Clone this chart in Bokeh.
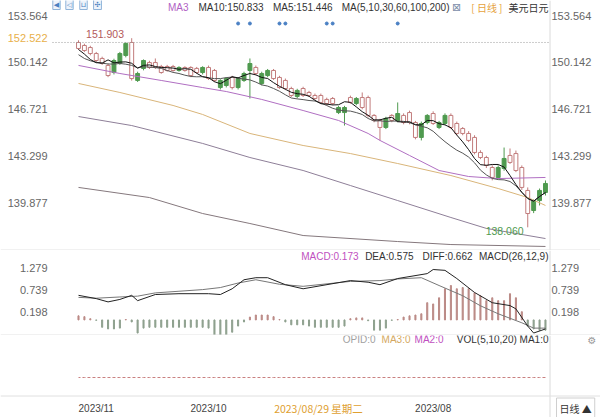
import pandas as pd
from bokeh.plotting import figure
from bokeh.layouts import column
from bokeh.models import Range1d, Label, Span
from bokeh.embed import file_html
from bokeh.resources import INLINE

# ---------------- data (chronological; index 0 = earliest) ----------------
opens = [141.27, 140.76, 140.02, 139.07, 140.98, 142.22, 142.81, 143.10, 142.44, 141.71,
         142.59, 143.17, 143.54, 144.42, 144.93, 144.93, 145.37, 146.25, 145.73, 145.66,
         146.25, 145.66, 144.64, 145.73, 145.73, 146.39, 145.88, 146.03, 145.37, 145.88,
         146.25, 146.83, 147.49, 147.20, 146.83, 146.83, 147.12, 147.12, 147.20, 147.49,
         147.71, 147.71, 148.08, 147.71, 148.22, 148.29, 148.95, 149.54, 149.32, 149.32,
         150.05, 149.32, 148.95, 148.29, 148.95, 148.81, 148.81, 148.95, 149.76, 149.39,
         149.17, 149.54, 149.76, 149.54, 149.54, 149.39, 149.76, 149.76, 150.27, 149.32,
         148.95, 151.52, 150.78, 150.27, 149.17, 150.05, 150.27, 150.78, 151.00, 151.15]
closes = [140.61, 140.02, 139.29, 140.76, 142.44, 143.46, 143.32, 142.37, 141.71, 142.44,
          143.17, 143.54, 144.64, 144.93, 145.29, 145.66, 146.25, 145.66, 145.37, 146.39,
          145.73, 144.64, 145.73, 146.46, 146.25, 145.88, 146.25, 145.37, 145.88, 146.25,
          147.56, 147.56, 147.12, 147.56, 146.46, 146.46, 147.49, 147.42, 147.71, 147.71,
          147.93, 148.22, 147.64, 148.22, 148.81, 149.03, 149.54, 149.17, 148.59, 149.76,
          149.54, 148.81, 148.29, 149.03, 148.44, 148.29, 149.54, 149.76, 149.39, 149.69,
          149.76, 149.76, 149.54, 149.83, 149.83, 149.83, 150.12, 150.12, 149.69, 148.81,
          151.59, 150.64, 150.05, 149.39, 149.91, 150.42, 150.78, 151.22, 151.37, 151.59]
highs = [141.49, 140.90, 140.10, 140.98, 142.59, 143.68, 143.83, 143.90, 142.60, 142.60,
         143.30, 143.70, 144.80, 145.10, 145.40, 145.80, 146.40, 146.40, 145.85, 146.55,
         146.35, 145.80, 145.85, 146.60, 146.40, 147.20, 146.35, 146.15, 146.00, 146.35,
         147.70, 147.93, 147.60, 147.70, 146.95, 146.95, 147.60, 147.55, 147.85, 147.85,
         148.05, 148.35, 148.20, 148.35, 148.95, 149.15, 149.65, 149.65, 149.45, 149.90,
         150.42, 149.45, 149.05, 149.15, 149.05, 148.90, 149.65, 149.90, 149.85, 149.80,
         149.85, 149.85, 149.85, 149.95, 149.95, 149.95, 150.42, 150.25, 150.35, 149.45,
         151.903, 151.60, 150.90, 150.40, 150.05, 150.55, 150.90, 151.35, 151.50, 151.75]
lows = [140.39, 139.66, 139.10, 138.06, 140.80, 142.10, 142.70, 142.20, 141.60, 141.50,
        142.40, 143.05, 143.40, 144.30, 144.80, 144.80, 145.25, 145.55, 145.25, 145.55,
        145.60, 144.42, 144.50, 145.60, 145.60, 145.75, 145.75, 145.25, 144.42, 145.75,
        146.10, 146.70, 147.00, 147.10, 145.51, 146.35, 147.00, 147.00, 147.10, 147.40,
        147.60, 147.60, 147.50, 147.60, 148.10, 148.20, 148.85, 149.05, 148.45, 149.20,
        147.49, 148.70, 148.15, 148.15, 148.30, 148.15, 148.70, 148.85, 149.25, 149.30,
        149.05, 149.45, 149.45, 149.45, 149.45, 149.30, 149.65, 149.65, 149.55, 148.70,
        148.80, 150.50, 149.95, 149.25, 149.05, 149.95, 150.15, 150.65, 150.90, 151.05]

ma30_idx = [0, 8, 13, 18, 23, 28, 30, 35, 41, 48, 54, 58, 65, 72, 79]
ma30_val = [141.71, 141.63, 141.78, 142.22, 143.32, 144.42, 144.93, 145.88, 146.61, 147.42,
            148.00, 148.29, 148.81, 149.32, 149.91]
ma60_idx = [0, 3, 8, 16, 25, 33, 41, 50, 58, 63, 72, 79]
ma60_val = [139.66, 140.24, 140.90, 141.85, 142.73, 143.46, 144.05, 144.93, 146.32, 146.98,
            147.93, 148.59]
ma100_idx = [0, 10, 16, 25, 33, 41, 50, 58, 70, 79]
ma100_val = [137.24, 137.98, 138.78, 140.02, 141.12, 142.22, 143.17, 144.20, 145.51, 146.17]
ma200_idx = [0, 16, 25, 41, 50, 58, 67, 79]
ma200_val = [136.66, 136.80, 137.02, 137.46, 138.34, 139.07, 140.24, 140.98]

macd_hist = [-0.25, -0.25, -0.22, -0.15, 0.20, 0.54, 0.64, 0.47, 0.47, 0.54,
             0.47, 0.59, 0.66, 0.76, 0.79, 0.76, 0.84, 0.76, 0.54, 0.39,
             0.42, 0.15, 0.12, 0.10, 0.07, 0.01, -0.01, -0.20, -0.25, -0.25,
             -0.02, 0.05, 0.05, 0.03, -0.15, -0.18, -0.18, -0.18, -0.18, -0.18,
             -0.15, -0.12, -0.12, -0.12, -0.05, 0.01, 0.08, 0.12, 0.12, 0.12,
             0.07, -0.05, -0.15, -0.30, -0.40, -0.40, -0.45, -0.20, -0.18, -0.18,
             -0.18, -0.18, -0.18, -0.18, -0.18, -0.18, -0.18, -0.18, -0.20, -0.32,
             -0.05, 0.01, -0.20, -0.22, -0.22, -0.18, -0.01, 0.03, 0.08, 0.10]
diff_idx = [0, 2, 3, 5, 6, 9, 12, 15, 17, 19, 20, 25, 28, 30, 33, 41, 44, 47, 49, 51,
            53, 55, 57, 62, 66, 69, 70, 72, 74, 76, 79]
diff_val = [-0.22, -0.32, -0.15, 0.27, 0.35, 0.42, 0.67, 1.01, 1.21, 1.23, 1.13, 1.01,
            0.86, 0.92, 0.96, 0.76, 0.86, 1.03, 1.03, 0.98, 0.76, 0.62, 0.64, 0.64,
            0.62, 0.47, 0.60, 0.50, 0.44, 0.52, 0.60]
dea_idx = [0, 2, 4, 8, 11, 14, 18, 21, 25, 28, 33, 41, 45, 49, 52, 55, 58, 62, 66, 69,
           72, 76, 79]
dea_val = [-0.20, -0.20, -0.07, 0.15, 0.345, 0.59, 0.84, 1.03, 1.00, 0.96, 0.94, 0.82,
           0.87, 0.98, 0.90, 0.79, 0.74, 0.70, 0.66, 0.58, 0.56, 0.53, 0.55]

volume = [0] * 80
event_idx = [25, 36, 37, 44, 45, 50, 52]

price_ticks = [153.564, 150.142, 146.721, 143.299, 139.877]
macd_ticks = [1.279, 0.739, 0.198]
date_ticks = [19, 57, 76]
date_labels = ["2023/08", "2023/10", "2023/11"]
crosshair_idx = 38.4
crosshair_label = "2023/08/29 星期二"
last_price_label = "152.522"
high_label = "151.903"
low_label = "138.060"

# ---------------- geometry / styling ----------------
UPC = "#c27c7c"
DNC = "#4f9a4f"
LAT = "Liberation Sans"
CJK = "Noto Sans CJK SC"
W = 600
H_MAIN, H_MACD, H_VOLD = 250, 85, 82
FRAME_L, FRAME_R = 52, 549          # plotting area (pixels)
PPI = 5.911                          # pixels per candle
I_LEFT = 79 + 78 / PPI               # candle index at pixel x = 0 (time runs right-to-left)
XR = Range1d(I_LEFT, I_LEFT - W / PPI)


def x_at(px):
    return I_LEFT - px / PPI


n = len(closes)
idx = list(range(n))


def make_fig(h, yr):
    f = figure(width=W, height=h, x_range=XR, y_range=yr, output_backend="svg",
               toolbar_location=None, x_axis_location=None, y_axis_location=None,
               min_border=0, background_fill_color="white",
               border_fill_color="white", outline_line_color=None)
    f.grid.visible = False
    f.add_layout(Span(location=x_at(FRAME_R + 0.5), dimension="height",
                      line_color="#dadada", line_width=1))
    return f


def lab(f, x, y, text, color="#333333", align="right", size="10px", font=LAT,
        xu="screen", yu="screen", baseline="middle", **kw):
    f.add_layout(Label(x=x, y=y, x_units=xu, y_units=yu, text=text, text_color=color,
                       text_align=align, text_baseline=baseline, text_font_size=size,
                       text_font=font, **kw))


def tick_labels(f, ticks):
    for t in ticks:
        s = "%.3f" % t
        lab(f, FRAME_L - 5, t, s, color="#666666", size="11px", yu="data")
        lab(f, FRAME_R + 2, t, s, color="#666666", size="11px", yu="data", align="left")


# ---------------- main price panel ----------------
y_top, y_bot = 154.662, 136.364
p = make_fig(H_MAIN, Range1d(y_bot, y_top))
px = (y_top - y_bot) / H_MAIN
tick_labels(p, price_ticks)

up = [c >= o for o, c in zip(opens, closes)]
cols = [UPC if u else DNC for u in up]
fills = ["white" if u else DNC for u in up]
p.segment(idx, highs, idx, lows, color=cols, line_width=1)
p.vbar(x=idx, width=0.66, top=[max(o, c) for o, c in zip(opens, closes)],
       bottom=[min(o, c) for o, c in zip(opens, closes)], fill_color=fills,
       line_color=cols, line_width=1)

s = pd.Series(closes)
ma5 = s.rolling(5, min_periods=1).mean()
ma10 = s.rolling(10, min_periods=1).mean()
p.line(ma200_idx, ma200_val, color="#85787d", line_width=1)
p.line(ma100_idx, ma100_val, color="#8e7f98", line_width=1)
p.line(ma60_idx, ma60_val, color="#d9b57a", line_width=1)
p.line(ma30_idx, ma30_val, color="#b06fc2", line_width=1)
p.line(idx, ma10, color="#555555", line_width=1)
p.line(idx, ma5, color="#111111", line_width=1)

# last-price dotted line across the plotting area
p.segment(x0=[x_at(FRAME_L)], y0=[closes[-1]], x1=[x_at(FRAME_R)], y1=[closes[-1]],
          line_color="#9a9a9a", line_dash="1 2", line_width=1)
ev_y = y_top - 23 * px
p.scatter(event_idx, [ev_y] * len(event_idx), size=3, color="#4a80c4")

imax = highs.index(max(highs))
imin = lows.index(min(lows))
lab(p, imax + 1.3, highs[imax], high_label, color="#b35a5a", baseline="bottom",
    xu="data", yu="data", size="10.5px")
lab(p, imin + 0.7, lows[imin], low_label, color="#4f9a4f", baseline="top",
    xu="data", yu="data", size="10.5px")
lab(p, FRAME_L - 5, H_MAIN - 37, last_price_label, color="#e8b04a", size="11px")

# legend row
LY = H_MAIN - 7
lab(p, 548, LY, "美元日元", font=CJK)
lab(p, 502, LY, "[ 日线 ]", color="#e6a23c", font=CJK)
lab(p, 456, LY, "⊠", color="#7a8ca8", align="center", font="DejaVu Sans", size="11px")
lab(p, 449, LY, "MA(5,10,30,60,100,200)")
lab(p, 332, LY, "MA5:151.446")
lab(p, 263, LY, "MA10:150.833")
lab(p, 188, LY, "MA3", color="#b15fc4")
# small tool icons at the top-left corner
for cx, ch in zip([56, 69, 83, 97], ["◀", "◁", "⊔", "✣"]):
    lab(p, cx, H_MAIN - 4, ch, color="#4a7fc0", align="center", font="DejaVu Sans",
        size="7px", border_line_color="#8fb3d9", background_fill_color="#edf3fb", padding=1)
p.add_layout(Span(location=y_bot + 0.5 * px, dimension="width", line_color="#e3e3e3"))

# ---------------- MACD panel ----------------
m_top, m_bot = 1.694, -0.380
m = make_fig(H_MACD, Range1d(m_bot, m_top))
mpx = (m_top - m_bot) / H_MACD
tick_labels(m, macd_ticks)
m.vbar(x=idx, width=0.18, top=macd_hist, bottom=0,
       color=["#bb8a86" if v >= 0 else "#8ea08e" for v in macd_hist])
m.line(dea_idx, dea_val, color="#777777", line_width=1)
m.line(diff_idx, diff_val, color="#222222", line_width=1)
MY = H_MACD - 6
lab(m, 548, MY, "MACD(26,12,9)")
lab(m, 472, MY, "DIFF:0.662")
lab(m, 413, MY, "DEA:0.575")
lab(m, 358, MY, "MACD:0.173", color="#c050c0")
m.add_layout(Span(location=m_bot + 0.5 * mpx, dimension="width", line_color="#e3e3e3"))

# ---------------- VOL panel + date row ----------------
v_top = 0.7
v_bot = v_top - H_VOLD / 60.0
v = make_fig(H_VOLD, Range1d(v_bot, v_top))
v.line(idx, volume, color="#c98080", line_dash="3 2", line_width=1)
VY = H_VOLD - 4
lab(v, 548, VY, "VOL(5,10,20) MA1:0")
lab(v, 443, VY, "MA2:0", color="#c050c0")
lab(v, 410, VY, "MA3:0", color="#d4a860")
lab(v, 375, VY, "OPID:0", color="#a0a0a0")
lab(v, 587, VY - 1, "⚙", color="#9a9a9a", align="left", font="DejaVu Sans", size="10px")
v.add_layout(Span(location=v_top - 60.5 / 60.0, dimension="width", line_color="#e0e0e0"))
for t, s_ in zip(date_ticks, date_labels):
    lab(v, t, 9, s_, color="#444444", align="center", xu="data", size="10px")
lab(v, crosshair_idx, 9, crosshair_label, color="#e0a030", align="center",
    xu="data", font=CJK, size="10.5px")
lab(v, 556, 9, "日线 ▲", align="left", font=CJK, size="10px",
    border_line_color="#cfcfcf", background_fill_color="white", padding=3)

layout = column(p, m, v, spacing=0)
open("out.html", "w").write(file_html(layout, INLINE))
